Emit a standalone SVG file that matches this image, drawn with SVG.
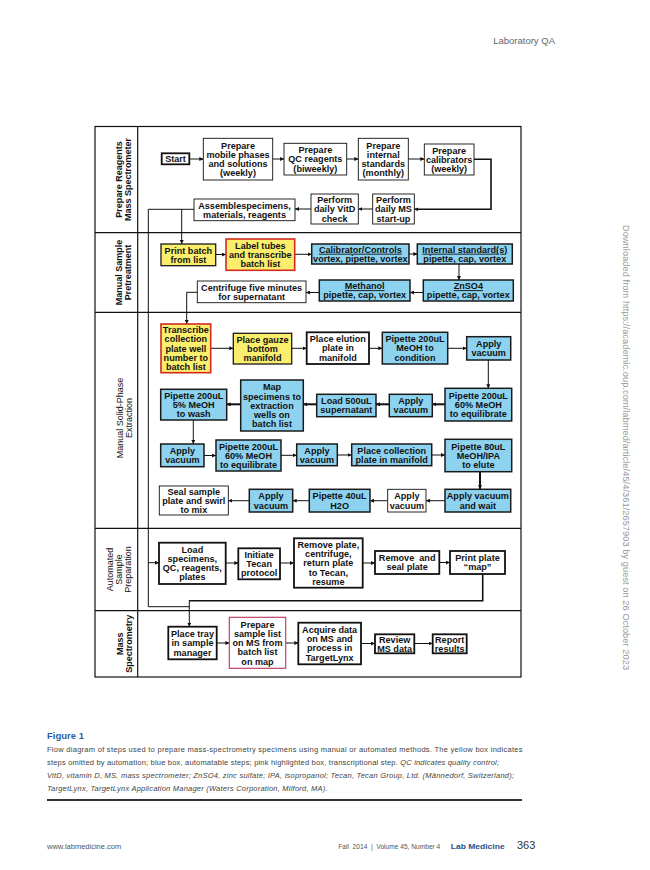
<svg xmlns="http://www.w3.org/2000/svg" width="650" height="870" viewBox="0 0 650 870">
<style>
.bx{fill:#fff;stroke:#111;stroke-width:1.8}
.thin{fill:#fff;stroke:#111;stroke-width:0.9}
.bl{fill:#8dd3f0;stroke:#1a1a1a;stroke-width:1.5}
.yl{fill:#fbee6c;stroke:#1a1a1a;stroke-width:1.3}
.yr{fill:#fbee6c;stroke:#d42a22;stroke-width:1.6}
.pk{fill:#fff;stroke:#b8345e;stroke-width:1.1}
.t{font-family:"Liberation Sans",Arial,sans-serif;font-weight:bold;font-size:9.1px;fill:#111;text-anchor:middle}
.u{text-decoration:underline}
.ln{fill:none;stroke:#111;stroke-width:1}
.thk{fill:none;stroke:#111;stroke-width:2}
.mid{fill:none;stroke:#111;stroke-width:1.6}
.fr{fill:none;stroke:#111;stroke-width:1.2}
.lane{font-family:"Liberation Sans",Arial,sans-serif;font-size:9px;fill:#111;text-anchor:middle}
.cap{font-family:"Liberation Sans",Arial,sans-serif;font-size:7.5px;fill:#444}
</style>
<defs>
<marker id="ah" viewBox="0 0 6 6" refX="6" refY="3" markerWidth="4" markerHeight="4" markerUnits="userSpaceOnUse" orient="auto">
<path d="M0,0 L6,3 L0,6 z" fill="#111"/>
</marker>
</defs>

<text x="555" y="44" font-family="Liberation Sans, Arial, sans-serif" font-size="9.5" fill="#666" text-anchor="end">Laboratory QA</text>
<text transform="translate(623,225) rotate(90)" font-family="Liberation Sans, Arial, sans-serif" font-size="9.2" fill="#999" textLength="445" lengthAdjust="spacing">Downloaded from https://academic.oup.com/labmed/article/45/4/361/2657903 by guest on 26 October 2023</text>

<g id="frame">
<rect class="fr" x="95" y="126.5" width="426" height="550.5"/>
<line class="fr" x1="137.7" y1="126.5" x2="137.7" y2="677"/>
<line class="fr" x1="95" y1="232.7" x2="521" y2="232.7"/>
<line class="fr" x1="95" y1="312.3" x2="521" y2="312.3"/>
<line class="fr" x1="95" y1="528.3" x2="521" y2="528.3"/>
<line class="fr" x1="95" y1="610.7" x2="521" y2="610.7"/>
</g>

<g id="lane-labels">
<text class="lane" font-weight="bold" transform="translate(122,179.5) rotate(-90)"><tspan x="0" dy="0">Prepare Reagents</tspan><tspan x="0" dy="9">Mass Spectrometer</tspan></text>
<text class="lane" font-weight="bold" transform="translate(122,272.5) rotate(-90)"><tspan x="0" dy="0">Manual Sample</tspan><tspan x="0" dy="9">Pretreatment</tspan></text>
<text class="lane" transform="translate(123,418) rotate(-90)"><tspan x="0" dy="0">Manual Solid-Phase</tspan><tspan x="0" dy="8.5">Extraction</tspan></text>
<text class="lane" transform="translate(113,569.5) rotate(-90)"><tspan x="0" dy="0">Automated</tspan><tspan x="0" dy="9">Sample</tspan><tspan x="0" dy="9">Preparation</tspan></text>
<text class="lane" font-weight="bold" transform="translate(122.5,643.7) rotate(-90)"><tspan x="0" dy="0">Mass</tspan><tspan x="0" dy="9">Spectrometry</tspan></text>
</g>

<g id="connectors">
<line class="ln" x1="189.3" y1="159" x2="203.3" y2="159" marker-end="url(#ah)"/>
<line class="ln" x1="272.7" y1="159" x2="284" y2="159" marker-end="url(#ah)"/>
<line class="ln" x1="346.7" y1="159" x2="358.3" y2="159" marker-end="url(#ah)"/>
<line class="ln" x1="408.3" y1="159" x2="424.3" y2="159" marker-end="url(#ah)"/>
<polyline class="mid" points="474,159.3 491,159.3 491,209.3 414.3,209.3" marker-end="url(#ah)"/>
<line class="ln" x1="372.7" y1="209" x2="358.3" y2="209" marker-end="url(#ah)"/>
<line class="ln" x1="311" y1="209" x2="295" y2="209" marker-end="url(#ah)"/>
<polyline class="ln" points="194,209.3 148.3,209.3 148.3,606.7 189.3,606.7"/>
<line class="ln" x1="181.7" y1="209.3" x2="181.7" y2="244" marker-end="url(#ah)"/>
<line class="ln" x1="148.3" y1="562.7" x2="159" y2="562.7" marker-end="url(#ah)"/>
<line class="ln" x1="215.7" y1="254.5" x2="226" y2="254.5" marker-end="url(#ah)"/>
<line class="ln" x1="294.7" y1="254.3" x2="311.7" y2="254.3" marker-end="url(#ah)"/>
<line class="ln" x1="409" y1="254" x2="417.3" y2="254" marker-end="url(#ah)"/>
<line class="ln" x1="459" y1="264" x2="459" y2="280" marker-end="url(#ah)"/>
<line class="ln" x1="423.3" y1="292.5" x2="410" y2="292.5" marker-end="url(#ah)"/>
<line class="ln" x1="319.3" y1="292.5" x2="306" y2="292.5" marker-end="url(#ah)"/>
<polyline class="ln" points="197.3,292.3 186.7,292.3 186.7,324" marker-end="url(#ah)"/>
<line class="ln" x1="210.7" y1="348.3" x2="233.3" y2="348.3" marker-end="url(#ah)"/>
<line class="ln" x1="291.7" y1="348.3" x2="306.7" y2="348.3" marker-end="url(#ah)"/>
<line class="ln" x1="369" y1="348.3" x2="382.3" y2="348.3" marker-end="url(#ah)"/>
<line class="ln" x1="447.7" y1="348.3" x2="466.7" y2="348.3" marker-end="url(#ah)"/>
<line class="ln" x1="488.3" y1="360" x2="488.3" y2="388.3" marker-end="url(#ah)"/>
<line class="thk" x1="445" y1="404.3" x2="432.3" y2="404.3" marker-end="url(#ah)"/>
<line class="thk" x1="389.3" y1="404.3" x2="376" y2="404.3" marker-end="url(#ah)"/>
<line class="thk" x1="316.7" y1="404.3" x2="303.3" y2="404.3" marker-end="url(#ah)"/>
<line class="thk" x1="240.7" y1="404.3" x2="226.7" y2="404.3" marker-end="url(#ah)"/>
<line class="ln" x1="193.3" y1="420" x2="193.3" y2="444" marker-end="url(#ah)"/>
<line class="ln" x1="204" y1="455.5" x2="216" y2="455.5" marker-end="url(#ah)"/>
<line class="ln" x1="281" y1="455.3" x2="296.7" y2="455.3" marker-end="url(#ah)"/>
<line class="ln" x1="337.3" y1="455" x2="351.7" y2="455" marker-end="url(#ah)"/>
<line class="ln" x1="431.7" y1="455" x2="445" y2="455" marker-end="url(#ah)"/>
<line class="thk" x1="480" y1="471.7" x2="480" y2="489.3" marker-end="url(#ah)"/>
<line class="ln" x1="445" y1="500.7" x2="426" y2="500.7" marker-end="url(#ah)"/>
<line class="ln" x1="387.7" y1="500.7" x2="370" y2="500.7" marker-end="url(#ah)"/>
<line class="ln" x1="309.3" y1="500.7" x2="292.7" y2="500.7" marker-end="url(#ah)"/>
<line class="ln" x1="249.3" y1="500.7" x2="228.3" y2="500.7" marker-end="url(#ah)"/>
<line class="ln" x1="225.7" y1="563" x2="238.3" y2="563" marker-end="url(#ah)"/>
<line class="ln" x1="280" y1="563" x2="294" y2="563" marker-end="url(#ah)"/>
<line class="ln" x1="362.7" y1="563" x2="375" y2="563" marker-end="url(#ah)"/>
<line class="ln" x1="439.3" y1="562.5" x2="450" y2="562.5" marker-end="url(#ah)"/>
<polyline class="mid" points="482.7,574 482.7,600.7 189.3,600.7"/>
<line class="ln" x1="189.3" y1="600" x2="189.3" y2="626.7" marker-end="url(#ah)"/>
<line class="ln" x1="216.7" y1="643" x2="229.3" y2="643" marker-end="url(#ah)"/>
<line class="ln" x1="285.7" y1="643" x2="298.3" y2="643" marker-end="url(#ah)"/>
<line class="ln" x1="361" y1="643.5" x2="375" y2="643.5" marker-end="url(#ah)"/>
<line class="ln" x1="414.3" y1="643.5" x2="432.7" y2="643.5" marker-end="url(#ah)"/>
</g>

<g id="n-start"><rect class="bx" x="161.7" y="153.3" width="27.6" height="11"/><text class="t" x="175.5" y="162.1">Start</text></g>
<g id="n-mobile"><rect class="thin" x="203.3" y="138.3" width="69.4" height="41.7"/><text class="t"><tspan x="238" y="148.6">Prepare</tspan><tspan x="238" y="157.8">mobile phases</tspan><tspan x="238" y="167">and solutions</tspan><tspan x="238" y="176.2">(weekly)</tspan></text></g>
<g id="n-qc"><rect class="thin" x="284" y="143.3" width="62.7" height="31.7"/><text class="t"><tspan x="315.35" y="153.2">Prepare</tspan><tspan x="315.35" y="162.4">QC reagents</tspan><tspan x="315.35" y="171.6">(biweekly)</tspan></text></g>
<g id="n-internal"><rect class="thin" x="358.3" y="138.3" width="50" height="41.7"/><text class="t"><tspan x="383.3" y="148.6">Prepare</tspan><tspan x="383.3" y="157.8">internal</tspan><tspan x="383.3" y="167">standards</tspan><tspan x="383.3" y="176.2">(monthly)</tspan></text></g>
<g id="n-calib"><rect class="thin" x="424.3" y="144" width="49.7" height="31"/><text class="t"><tspan x="449.15" y="153.6">Prepare</tspan><tspan x="449.15" y="162.8">calibrators</tspan><tspan x="449.15" y="172">(weekly)</tspan></text></g>
<g id="n-ms"><rect class="thin" x="372.7" y="194" width="41.6" height="30"/><text class="t"><tspan x="393.5" y="203.1">Perform</tspan><tspan x="393.5" y="212.3">daily MS</tspan><tspan x="393.5" y="221.5">start-up</tspan></text></g>
<g id="n-vitd"><rect class="thin" x="311" y="194" width="47.3" height="30"/><text class="t"><tspan x="334.65" y="203.1">Perform</tspan><tspan x="334.65" y="212.3">daily VitD</tspan><tspan x="334.65" y="221.5">check</tspan></text></g>
<g id="n-assemble"><rect class="thin" x="194" y="199" width="101" height="21.7"/><text class="t"><tspan x="244.5" y="208.5">Assemblespecimens,</tspan><tspan x="244.5" y="217.7">materials, reagents</tspan></text></g>

<g id="n-print"><rect class="yl" x="161" y="244" width="54.7" height="21.7"/><text class="t"><tspan x="188.35" y="253.5">Print batch</tspan><tspan x="188.35" y="262.7">from list</tspan></text></g>
<g id="n-label"><rect class="yr" x="226" y="239" width="68.7" height="31.3"/><text class="t"><tspan x="260.35" y="248.7">Label tubes</tspan><tspan x="260.35" y="257.9">and transcribe</tspan><tspan x="260.35" y="267.1">batch list</tspan></text></g>
<g id="n-calctl"><rect class="bl" x="311.7" y="244" width="97.3" height="20"/><text class="t"><tspan x="360.35" y="252.7" class="u">Calibrator/Controls</tspan><tspan x="360.35" y="261.9">vortex, pipette, vortex</tspan></text></g>
<g id="n-intstd"><rect class="bl" x="417.3" y="244" width="95" height="20"/><text class="t"><tspan x="464.8" y="252.7" class="u">Internal standard(s)</tspan><tspan x="464.8" y="261.9">pipette, cap, vortex</tspan></text></g>
<g id="n-znso4"><rect class="bl" x="423.3" y="280" width="90" height="21"/><text class="t"><tspan x="468.3" y="289.2" class="u">ZnSO4</tspan><tspan x="468.3" y="298.4">pipette, cap, vortex</tspan></text></g>
<g id="n-methanol"><rect class="bl" x="319.3" y="280" width="90.7" height="21"/><text class="t"><tspan x="364.65" y="289.2" class="u">Methanol</tspan><tspan x="364.65" y="298.4">pipette, cap, vortex</tspan></text></g>
<g id="n-centrifuge"><rect class="thin" x="197.3" y="281" width="108.7" height="21.7"/><text class="t"><tspan x="251.65" y="290.5">Centrifuge five minutes</tspan><tspan x="251.65" y="299.7">for supernatant</tspan></text></g>

<g id="n-transcribe"><rect class="yr" x="161" y="324" width="49.7" height="48.7"/><text class="t"><tspan x="185.85" y="333.2">Transcribe</tspan><tspan x="185.85" y="342.4">collection</tspan><tspan x="185.85" y="351.6">plate well</tspan><tspan x="185.85" y="360.8">number to</tspan><tspan x="185.85" y="370">batch list</tspan></text></g>
<g id="n-gauze"><rect class="yl" x="233.3" y="333.3" width="58.4" height="30.7"/><text class="t"><tspan x="262.5" y="342.7">Place gauze</tspan><tspan x="262.5" y="351.9">bottom</tspan><tspan x="262.5" y="361.1">manifold</tspan></text></g>
<g id="n-elution"><rect class="bx" x="306.7" y="332.3" width="62.3" height="31.7"/><text class="t"><tspan x="337.85" y="342.2">Place elution</tspan><tspan x="337.85" y="351.4">plate in</tspan><tspan x="337.85" y="360.6">manifold</tspan></text></g>
<g id="n-pipcond"><rect class="bl" x="382.3" y="332.3" width="65.4" height="31.7"/><text class="t"><tspan x="415" y="342.2">Pipette 200uL</tspan><tspan x="415" y="351.4">MeOH to</tspan><tspan x="415" y="360.6">condition</tspan></text></g>
<g id="n-vac1"><rect class="bl" x="466.7" y="336.7" width="44" height="23.3"/><text class="t"><tspan x="488.7" y="347">Apply</tspan><tspan x="488.7" y="356.2">vacuum</tspan></text></g>
<g id="n-pipeq-r"><rect class="bl" x="445" y="388.3" width="66.7" height="32.7"/><text class="t"><tspan x="478.35" y="398.7">Pipette 200uL</tspan><tspan x="478.35" y="407.9">60% MeOH</tspan><tspan x="478.35" y="417.1">to equilibrate</tspan></text></g>
<g id="n-vac-mid"><rect class="bl" x="389.3" y="394.3" width="43" height="22.4"/><text class="t"><tspan x="410.8" y="404.2">Apply</tspan><tspan x="410.8" y="413.4">vacuum</tspan></text></g>
<g id="n-load500"><rect class="bl" x="316.7" y="394.3" width="59.3" height="22.4"/><text class="t"><tspan x="346.35" y="404.2">Load 500uL</tspan><tspan x="346.35" y="413.4">supernatant</tspan></text></g>
<g id="n-map"><rect class="bl" x="240.7" y="380" width="62.6" height="51"/><text class="t"><tspan x="272" y="390.4">Map</tspan><tspan x="272" y="399.6">specimens to</tspan><tspan x="272" y="408.8">extraction</tspan><tspan x="272" y="418">wells on</tspan><tspan x="272" y="427.2">batch list</tspan></text></g>
<g id="n-pipwash"><rect class="bl" x="160.7" y="389.3" width="66" height="30.7"/><text class="t"><tspan x="193.7" y="398.7">Pipette 200uL</tspan><tspan x="193.7" y="407.9">5% MeOH</tspan><tspan x="193.7" y="417.1">to wash</tspan></text></g>
<g id="n-vac-l"><rect class="bl" x="160.7" y="444" width="43.3" height="22.7"/><text class="t"><tspan x="182.35" y="454">Apply</tspan><tspan x="182.35" y="463.2">vacuum</tspan></text></g>
<g id="n-pipeq-l"><rect class="bl" x="216" y="440" width="65" height="31"/><text class="t"><tspan x="248.5" y="449.6">Pipette 200uL</tspan><tspan x="248.5" y="458.8">60% MeOH</tspan><tspan x="248.5" y="468">to equilibrate</tspan></text></g>
<g id="n-vac-c"><rect class="bl" x="296.7" y="444" width="40.6" height="21.7"/><text class="t"><tspan x="317" y="453.5">Apply</tspan><tspan x="317" y="462.7">vacuum</tspan></text></g>
<g id="n-collect"><rect class="bl" x="351.7" y="444" width="80" height="21.7"/><text class="t"><tspan x="391.7" y="453.5">Place collection</tspan><tspan x="391.7" y="462.7">plate in manifold</tspan></text></g>
<g id="n-pipelute"><rect class="bl" x="445" y="439.3" width="66.7" height="32.4"/><text class="t"><tspan x="478.35" y="449.6">Pipette 80uL</tspan><tspan x="478.35" y="458.8">MeOH/IPA</tspan><tspan x="478.35" y="468">to elute</tspan></text></g>
<g id="n-vacwait"><rect class="bl" x="445" y="489.3" width="65.7" height="22.7"/><text class="t"><tspan x="477.85" y="499.3">Apply vacuum</tspan><tspan x="477.85" y="508.5">and wait</tspan></text></g>
<g id="n-vac-white"><rect class="thin" x="387.7" y="489.3" width="38.3" height="22.7"/><text class="t"><tspan x="406.85" y="499.3">Apply</tspan><tspan x="406.85" y="508.5">vacuum</tspan></text></g>
<g id="n-pip40"><rect class="bl" x="309.3" y="489.3" width="60.7" height="22.7"/><text class="t"><tspan x="339.65" y="499.3">Pipette 40uL</tspan><tspan x="339.65" y="508.5">H2O</tspan></text></g>
<g id="n-vac-b"><rect class="bl" x="249.3" y="489.3" width="43.4" height="22.7"/><text class="t"><tspan x="271" y="499.3">Apply</tspan><tspan x="271" y="508.5">vacuum</tspan></text></g>
<g id="n-seal"><rect class="thin" x="159.3" y="486" width="69" height="29"/><text class="t"><tspan x="193.8" y="494.6">Seal sample</tspan><tspan x="193.8" y="503.8">plate and swirl</tspan><tspan x="193.8" y="513">to mix</tspan></text></g>

<g id="n-loadspec"><rect class="bx" x="159" y="542.7" width="66.7" height="41.3"/><text class="t"><tspan x="192.35" y="552.8">Load</tspan><tspan x="192.35" y="562">specimens,</tspan><tspan x="192.35" y="571.2">QC, reagents,</tspan><tspan x="192.35" y="580.4">plates</tspan></text></g>
<g id="n-tecan"><rect class="bx" x="238.3" y="548.3" width="41.7" height="31"/><text class="t"><tspan x="259.15" y="557.9">Initiate</tspan><tspan x="259.15" y="567.1">Tecan</tspan><tspan x="259.15" y="576.3">protocol</tspan></text></g>
<g id="n-removeplate"><rect class="bx" x="294" y="538.3" width="68.7" height="49.4"/><text class="t"><tspan x="328.35" y="547.9">Remove plate,</tspan><tspan x="328.35" y="557.1">centrifuge,</tspan><tspan x="328.35" y="566.3">return plate</tspan><tspan x="328.35" y="575.5">to Tecan,</tspan><tspan x="328.35" y="584.7">resume</tspan></text></g>
<g id="n-removeseal"><rect class="bx" x="375" y="551" width="64.3" height="23"/><text class="t"><tspan x="407.15" y="561.2" xml:space="preserve">Remove  and</tspan><tspan x="407.15" y="570.4">seal plate</tspan></text></g>
<g id="n-printmap"><rect class="bx" x="450" y="551" width="55" height="23"/><text class="t"><tspan x="477.5" y="561.2">Print plate</tspan><tspan x="477.5" y="570.4">“map”</tspan></text></g>

<g id="n-tray"><rect class="bx" x="168.3" y="626.7" width="48.4" height="32.6"/><text class="t"><tspan x="192.5" y="637.1">Place tray</tspan><tspan x="192.5" y="646.3">in sample</tspan><tspan x="192.5" y="655.5">manager</tspan></text></g>
<g id="n-preplist"><rect class="pk" x="229.3" y="617.3" width="56.4" height="51"/><text class="t"><tspan x="257.5" y="627.7">Prepare</tspan><tspan x="257.5" y="636.9">sample list</tspan><tspan x="257.5" y="646.1">on MS from</tspan><tspan x="257.5" y="655.3">batch list</tspan><tspan x="257.5" y="664.5">on map</tspan></text></g>
<g id="n-acquire"><rect class="bx" x="298.3" y="622.7" width="62.7" height="41.6"/><text class="t"><tspan x="329.65" y="633">Acquire data</tspan><tspan x="329.65" y="642.2">on MS and</tspan><tspan x="329.65" y="651.4">process in</tspan><tspan x="329.65" y="660.6">TargetLynx</tspan></text></g>
<g id="n-review"><rect class="bx" x="375" y="634.3" width="39.3" height="19"/><text class="t"><tspan x="394.65" y="642.5">Review</tspan><tspan x="394.65" y="651.7">MS data</tspan></text></g>
<g id="n-report"><rect class="bx" x="432.7" y="634.3" width="34" height="19"/><text class="t"><tspan x="449.7" y="642.5">Report</tspan><tspan x="449.7" y="651.7">results</tspan></text></g>

<g id="caption">
<text x="47" y="739" font-family="Liberation Sans, Arial, sans-serif" font-weight="bold" font-size="9.5" fill="#2a5ea8">Figure 1</text>
<text class="cap" x="47" y="752" textLength="475.5" lengthAdjust="spacing">Flow diagram of steps used to prepare mass-spectrometry specimens using manual or automated methods. The yellow box indicates</text>
<text class="cap" x="47" y="765" textLength="452" lengthAdjust="spacing">steps omitted by automation; blue box, automatable steps; pink highlighted box, transcriptional step. <tspan font-style="italic">QC indicates quality control;</tspan></text>
<text class="cap" x="47" y="778" font-style="italic" textLength="467" lengthAdjust="spacing">VitD, vitamin D, MS, mass spectrometer; ZnSO4, zinc sulfate; IPA, isopropanol; Tecan, Tecan Group, Ltd. (Männedorf, Switzerland);</text>
<text class="cap" x="47" y="791" font-style="italic" textLength="280.5" lengthAdjust="spacing">TargetLynx, TargetLynx Application Manager (Waters Corporation, Milford, MA).</text>
<line x1="47" y1="800" x2="522" y2="800" stroke="#333" stroke-width="2"/>
</g>

<g id="footer">
<text x="47" y="849" font-family="Liberation Sans, Arial, sans-serif" font-size="7.5" fill="#555">www.labmedicine.com</text>
<text x="338.3" y="849" font-family="Liberation Sans, Arial, sans-serif" font-size="7.3" fill="#555" xml:space="preserve" textLength="102" lengthAdjust="spacingAndGlyphs">Fall  2014  |  Volume 45, Number 4</text>
<text x="450.7" y="849" font-family="Liberation Sans, Arial, sans-serif" font-size="7.5" font-weight="bold" fill="#2a4f8a" textLength="54" lengthAdjust="spacingAndGlyphs">Lab Medicine</text>
<text x="517" y="849" font-family="Liberation Sans, Arial, sans-serif" font-size="11" fill="#333">363</text>
</g>
</svg>
